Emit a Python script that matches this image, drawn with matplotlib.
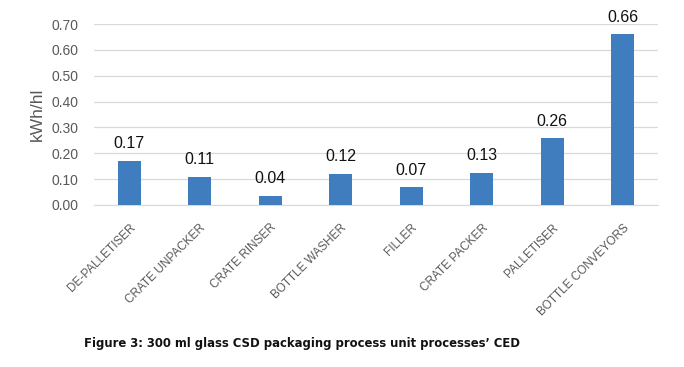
import matplotlib.pyplot as plt
import numpy as np

categories = ['DE-PALLETISER', 'CRATE UNPACKER', 'CRATE RINSER', 'BOTTLE WASHER',
              'FILLER', 'CRATE PACKER', 'PALLETISER', 'BOTTLE CONVEYORS']
values = [0.171, 0.109, 0.036, 0.121, 0.068, 0.124, 0.258, 0.661]
labels = ['0.17', '0.11', '0.04', '0.12', '0.07', '0.13', '0.26', '0.66']
yticks = [0.0, 0.1, 0.2, 0.3, 0.4, 0.5, 0.6, 0.7]

plt.rcParams['font.family'] = ['Liberation Sans', 'DejaVu Sans']

fig = plt.figure(figsize=(6.84, 3.67), dpi=100)
ax = fig.add_axes([94 / 684, 1 - 205 / 367, 564 / 684, 181 / 367])

x = np.arange(len(categories))
bars = ax.bar(x, values, width=0.33, color='#3f7dbf', zorder=3)

for b, lab in zip(bars, labels):
    ax.text(b.get_x() + b.get_width() / 2, b.get_height() + 0.037, lab,
            ha='center', va='bottom', fontsize=11.5, color='#111111')

ax.set_xlim(-0.5, len(categories) - 0.5)
ax.set_ylim(0, 0.7)
ax.set_yticks(yticks)
ax.set_yticklabels(['%.2f' % v for v in yticks], fontsize=10, color='#595959')
ax.set_xticks(x)
ax.set_xticklabels(categories, rotation=45, ha='right', rotation_mode='anchor',
                   fontsize=8.5, color='#595959')
ax.tick_params(axis='y', length=0, pad=11)
ax.tick_params(axis='x', length=0, pad=12)
ax.grid(axis='y', color='#d9d9d9', linewidth=0.9, zorder=0)
for s in ['top', 'right', 'left']:
    ax.spines[s].set_visible(False)
ax.spines['bottom'].set_color('#d9d9d9')
ax.set_ylabel('kWh/hl', fontsize=12.5, color='#595959', labelpad=5)

fig.text(302 / 684, 1 - 343 / 367, 'Figure 3: 300 ml glass CSD packaging process unit processes\u2019 CED',
         ha='center', va='center', fontsize=8.4, fontweight='bold',
         family=['DejaVu Sans'], color='#111111')

fig.savefig('out.png', dpi=100, facecolor='white')
